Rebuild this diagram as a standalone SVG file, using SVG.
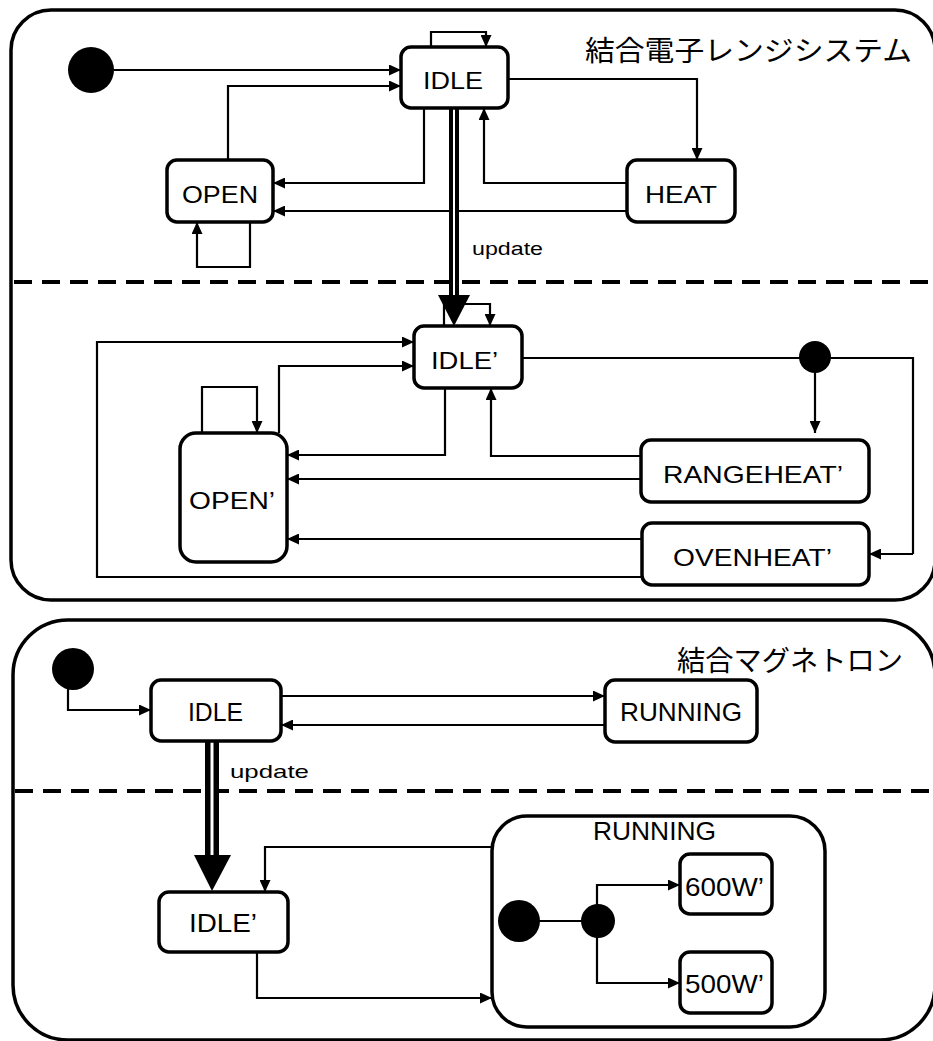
<svg xmlns="http://www.w3.org/2000/svg" width="933" height="1041" viewBox="0 0 933 1041">
<style>
.cont{fill:none;stroke:#000;stroke-width:3.5}
.node{fill:#fff;stroke:#000;stroke-width:3.5}
.lbl{font-family:"Liberation Sans",Arial,sans-serif;fill:#000}
.title{font-family:"Noto Sans CJK JP","Liberation Sans",sans-serif;fill:#000}
.c{fill:none;stroke:#000;stroke-width:2.2}
.ca{fill:none;stroke:#000;stroke-width:2.2;marker-end:url(#ah)}
.dash{stroke:#000;stroke-width:4;stroke-dasharray:18 10}
.dot{fill:#000}
</style>
<defs>
<marker id="ah" markerUnits="userSpaceOnUse" markerWidth="12" markerHeight="11" refX="12" refY="5.5" orient="auto">
<path d="M0,0 L12,5.5 L0,11 z" fill="#000"/>
</marker>
</defs>
<rect width="933" height="1041" fill="#fff"/>

<g id="container-top">
<rect class="cont" x="11" y="10" width="924" height="590" rx="40" ry="40"/>
<line class="dash" x1="14" y1="282" x2="933" y2="282"/>
<text class="title" x="585" y="61" font-size="28" textLength="327" lengthAdjust="spacingAndGlyphs">結合電子レンジシステム</text>
</g>

<g id="container-bottom">
<rect class="cont" x="13" y="620" width="922" height="420" rx="55" ry="55"/>
<line class="dash" x1="15" y1="791" x2="933" y2="791"/>
<text class="title" x="677" y="671" font-size="28" textLength="226" lengthAdjust="spacingAndGlyphs">結合マグネトロン</text>
</g>

<g id="connectors">
<!-- top -->
<path class="ca" d="M114,70 H401"/>
<path class="ca" d="M431,47 V32 H486 V47"/>
<path class="ca" d="M228,160 V86 H401"/>
<path class="ca" d="M424,108 V183 H273"/>
<path class="ca" d="M627,211 H273"/>
<path class="ca" d="M250,222 V267 H197 V222"/>
<path class="ca" d="M508,79 H697 V160"/>
<path class="ca" d="M627,183 H484 V108"/>
<!-- update top -->
<line x1="454" y1="108" x2="454" y2="296" stroke="#000" stroke-width="10"/>
<line x1="454" y1="108" x2="454" y2="296" stroke="#fff" stroke-width="2"/>
<path d="M438,295 L470,295 L454,326 z" fill="#000"/>
<!-- middle -->
<path class="ca" d="M444,326 V304 H490 V326"/>
<path class="ca" d="M641,577 H97 V342 H414"/>
<path class="ca" d="M279,433 V366 H414"/>
<path class="ca" d="M202,433 V387 H257 V433"/>
<path class="ca" d="M445,388 V455 H287"/>
<path class="ca" d="M641,479 H287"/>
<path class="ca" d="M642,539 H287"/>
<path class="ca" d="M641,456 H491 V388"/>
<path class="c" d="M522,358 H913 V554"/>
<path class="ca" d="M913,554 H869"/>
<path class="ca" d="M815,370 V433"/>
<!-- bottom -->
<path class="ca" d="M68,688 V710 H151"/>
<path class="ca" d="M281,696 H605"/>
<path class="ca" d="M605,725 H281"/>
<line x1="212" y1="741" x2="212" y2="856" stroke="#000" stroke-width="14"/>
<line x1="212" y1="741" x2="212" y2="856" stroke="#fff" stroke-width="3"/>
<path d="M194,855 L231,855 L212,891 z" fill="#000"/>
<path class="ca" d="M492,847 H265 V892"/>
<path class="ca" d="M257,952 V998 H492"/>
<path class="c" d="M519,921 H598"/>
<path class="ca" d="M597,921 V885 H680"/>
<path class="ca" d="M597,921 V983 H680"/>
</g>

<g id="init-top"><circle class="dot" cx="91" cy="70" r="23"/></g>
<g id="idle-top">
<rect class="node" x="401" y="47" width="107" height="61" rx="10"/>
<text class="lbl" x="423" y="89" font-size="23" textLength="60" lengthAdjust="spacingAndGlyphs">IDLE</text>
</g>
<g id="open-top">
<rect class="node" x="167" y="160" width="106" height="62" rx="10"/>
<text class="lbl" x="182" y="203" font-size="23" textLength="76" lengthAdjust="spacingAndGlyphs">OPEN</text>
</g>
<g id="heat-top">
<rect class="node" x="627" y="160" width="108" height="62" rx="10"/>
<text class="lbl" x="645" y="203" font-size="24" textLength="72" lengthAdjust="spacingAndGlyphs">HEAT</text>
</g>
<g id="label-update-top">
<text class="lbl" x="472" y="255" font-size="18" textLength="71" lengthAdjust="spacingAndGlyphs">update</text>
</g>

<g id="idle-mid">
<rect class="node" x="414" y="326" width="108" height="62" rx="10"/>
<text class="lbl" x="431" y="369" font-size="24" textLength="67" lengthAdjust="spacingAndGlyphs">IDLE’</text>
</g>
<g id="open-mid">
<rect class="node" x="180" y="433" width="107" height="129" rx="16"/>
<text class="lbl" x="189" y="509" font-size="24" textLength="86" lengthAdjust="spacingAndGlyphs">OPEN’</text>
</g>
<g id="choice-mid"><circle class="dot" cx="815" cy="357" r="16"/></g>
<g id="rangeheat-mid">
<rect class="node" x="641" y="440" width="228" height="62" rx="10"/>
<text class="lbl" x="663" y="483" font-size="24" textLength="180" lengthAdjust="spacingAndGlyphs">RANGEHEAT’</text>
</g>
<g id="ovenheat-mid">
<rect class="node" x="642" y="523" width="227" height="62" rx="10"/>
<text class="lbl" x="673" y="566" font-size="24" textLength="159" lengthAdjust="spacingAndGlyphs">OVENHEAT’</text>
</g>

<g id="init-bottom"><circle class="dot" cx="73" cy="669" r="21"/></g>
<g id="idle-bottom">
<rect class="node" x="151" y="680" width="130" height="61" rx="10"/>
<text class="lbl" x="188" y="721" font-size="26" textLength="55" lengthAdjust="spacingAndGlyphs">IDLE</text>
</g>
<g id="running-bottom">
<rect class="node" x="605" y="680" width="152" height="62" rx="10"/>
<text class="lbl" x="620" y="721" font-size="26" textLength="122" lengthAdjust="spacingAndGlyphs">RUNNING</text>
</g>
<g id="label-update-bottom">
<text class="lbl" x="230" y="778" font-size="19" textLength="79" lengthAdjust="spacingAndGlyphs">update</text>
</g>
<g id="idle-prime-bottom">
<rect class="node" x="159" y="892" width="129" height="60" rx="10"/>
<text class="lbl" x="189" y="932" font-size="26" textLength="68" lengthAdjust="spacingAndGlyphs">IDLE’</text>
</g>
<g id="running-composite">
<rect class="cont" x="492" y="816" width="333" height="211" rx="35"/>
<text class="lbl" x="593" y="840" font-size="25" textLength="123" lengthAdjust="spacingAndGlyphs">RUNNING</text>
</g>
<g id="init-running"><circle class="dot" cx="519" cy="921" r="21"/></g>
<g id="junction-running"><circle class="dot" cx="598" cy="921" r="17"/></g>
<g id="w600">
<rect class="node" x="680" y="854" width="92" height="60" rx="10"/>
<text class="lbl" x="685" y="896" font-size="25" textLength="79" lengthAdjust="spacingAndGlyphs">600W’</text>
</g>
<g id="w500">
<rect class="node" x="680" y="952" width="92" height="61" rx="10"/>
<text class="lbl" x="685" y="993" font-size="25" textLength="79" lengthAdjust="spacingAndGlyphs">500W’</text>
</g>
</svg>
